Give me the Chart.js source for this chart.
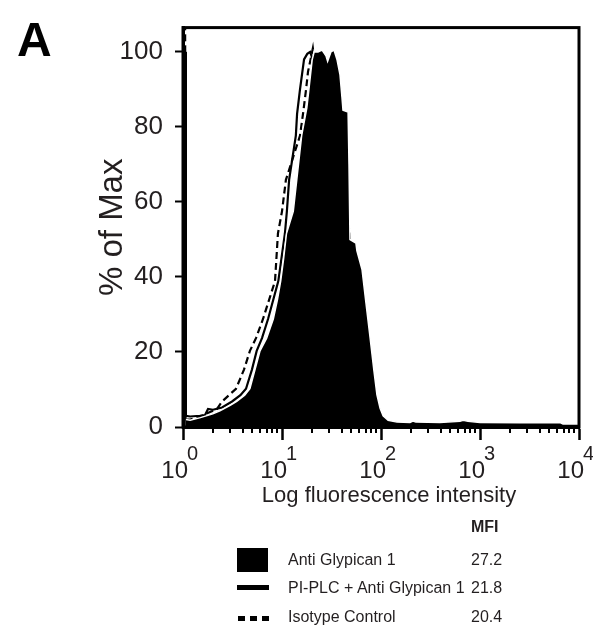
<!DOCTYPE html>
<html>
<head>
<meta charset="utf-8">
<script src="https://cdn.jsdelivr.net/npm/chart.js@4"></script>
<style>
  body { margin: 0; background: #fff; font-family: 'Liberation Sans', Arial, sans-serif; color: #231f20; }
  #wrap { position: relative; width: 593px; height: 632px; }
  #box { position: absolute; left: 0; top: 0; width: 593px; height: 632px; }
  .abs { position: absolute; white-space: nowrap; }
  .lbl { font-size: 16px; line-height: 20px; }
</style>
</head>
<body>
<div id="wrap">
  <div id="box"><canvas id="histChart"></canvas></div>
  <div class="abs" style="left:17px; top:12px; font-size:48px; font-weight:bold; color:#000;">A</div>

  <!-- legend -->
  <div class="abs lbl" style="left:471px; top:517px; font-weight:bold;">MFI</div>
  <div class="abs" style="left:237px; top:548px; width:31px; height:24px; background:#000;"></div>
  <div class="abs lbl" id="lg0" style="left:288px; top:550px;"></div>
  <div class="abs lbl" id="mfi0" style="left:471px; top:550px;"></div>
  <div class="abs" style="left:237px; top:585px; width:32px; height:5px; background:#000;"></div>
  <div class="abs lbl" id="lg1" style="left:288px; top:578px;"></div>
  <div class="abs lbl" id="mfi1" style="left:471px; top:578px;"></div>
  <div class="abs" style="left:238px; top:616px; width:31px; height:5px; background:repeating-linear-gradient(to right,#000 0 7px,transparent 7px 12px);"></div>
  <div class="abs lbl" id="lg2" style="left:288px; top:607px;"></div>
  <div class="abs lbl" id="mfi2" style="left:471px; top:607px;"></div>
</div>

<script>
// series names and MFI values
const seriesNames = ["Anti Glypican 1", "PI-PLC + Anti Glypican 1", "Isotype Control"];
const mfiValues = ["27.2", "21.8", "20.4"];

// Anti Glypican 1 (filled histogram)
const antiX = [1, 1.06, 1.07, 1.18, 1.5, 2.0, 2.36, 3.0, 3.49, 4.2, 4.74, 5.34, 6.0, 7.0, 8.17, 9.0, 9.7, 10.4, 11.1, 13.0, 14.1, 15.8, 17.8, 18.7, 20.2, 21.1, 23.1, 25.4, 27.8, 28.9, 31.2, 33.5, 35.9, 38.5, 40.3, 41.3, 46.5, 47.5, 48.6, 55.8, 57.1, 64.3, 70.5, 77.4, 84.8, 91, 97.9, 105, 118, 145, 196, 210, 225, 393, 628, 675, 756, 1000, 2540, 6440, 6900, 10000];
const antiY = [56, 56, 2, 1.8, 2.5, 3.5, 4.3, 5.8, 6.8, 8.5, 10.2, 15.3, 20.3, 23.7, 28.8, 34, 38.9, 45, 51.6, 57.5, 65.9, 77.7, 85, 90, 98, 100, 100, 100.5, 99, 97.5, 100, 100.5, 98, 94, 88, 84.5, 84, 70, 50, 49, 47, 42, 33, 24, 15, 8.6, 5, 3, 1.8, 1.3, 1.2, 1.6, 1.3, 1.2, 1.5, 1.8, 1.5, 1.2, 1.1, 1.2, 0.8, 0.8];

// PI-PLC + Anti Glypican 1 (solid line)
const plcX = [1, 1.05, 1.07, 1.18, 1.48, 1.67, 1.79, 2.01, 2.48, 3.13, 3.8, 4.33, 4.97, 5.55, 6.28, 7.23, 9.18, 10.7, 11.2, 11.8, 13.8, 14.2, 15.2, 16.7, 18.0, 19.2, 20.5, 24, 30, 38, 48, 61, 77, 98, 139, 10000];
const plcY = [100, 100, 3, 2.8, 3, 3.2, 4.8, 4.6, 5.2, 6.8, 8.5, 10.2, 15.3, 20.3, 23.7, 28.8, 38.9, 51.6, 57.5, 65.9, 77.7, 83.5, 90, 98, 99.5, 100, 98, 93, 85, 72, 45, 20, 6, 2, 0.6, 0.3];

// Isotype Control (dashed line)
const isoX = [1, 1.05, 1.07, 1.18, 1.5, 1.8, 2.2, 2.48, 3.43, 4.13, 4.74, 5.46, 6.43, 8.5, 9.1, 10.0, 10.95, 15.2, 16.3, 17.5, 18.3, 20.5, 21.6, 22.6, 27.2, 34.3, 43.3, 54.6, 68.8, 86.7, 109, 155, 10000];
const isoY = [110, 110, 2, 2, 2.8, 3.8, 4.8, 6.8, 10.2, 15.3, 20.3, 23.7, 28.8, 38.9, 51.6, 57.5, 65.9, 77.7, 83.5, 90, 94.7, 101, 96, 93, 92, 85, 65, 35, 12, 4, 1.5, 0.5, 0.3];

// axis ticks
const yTicks = [0, 20, 40, 60, 80, 100];
const xMajor = [1, 10, 100, 1000, 10000];
const xExp = ["0", "1", "2", "3", "4"];
const xMinor = [2, 3, 4, 5, 6, 7, 8, 9, 20, 30, 40, 50, 60, 70, 80, 90, 200, 300, 400, 500, 600, 700, 800, 900, 2000, 3000, 4000, 5000, 6000, 7000, 8000, 9000];
const xTitle = "Log fluorescence intensity";

for (let i = 0; i < 3; i++) {
  document.getElementById("lg" + i).innerText = seriesNames[i];
  document.getElementById("mfi" + i).innerText = mfiValues[i];
}

function pts(xs, ys) {
  return xs.map((x, i) => ({ x: x, y: ys[i] }));
}

const txt = "#231f20";
const fam = "'Liberation Sans', Arial, sans-serif";

// minor ticks, x labels with exponents, x title, box frame
const extras = {
  id: "extras",
  afterDatasetsDraw(chart) {
    const c = chart.ctx, a = chart.chartArea;
    c.save();
    c.strokeStyle = "#000";
    c.lineWidth = 3;
    c.strokeRect(a.left, a.top, a.right - a.left, a.bottom - a.top);
    c.restore();
  },
  afterDraw(chart) {
    const c = chart.ctx, a = chart.chartArea, xs = chart.scales.x;
    c.save();
    c.strokeStyle = "#000";
    c.lineWidth = 2;
    xMinor.forEach((v) => {
      const px = Math.round(xs.getPixelForValue(v));
      c.beginPath();
      c.moveTo(px, a.bottom);
      c.lineTo(px, a.bottom + 6);
      c.stroke();
    });
    c.fillStyle = txt;
    c.textBaseline = "alphabetic";
    xMajor.forEach((v, i) => {
      const px = xs.getPixelForValue(v);
      c.font = "24px " + fam;
      c.textAlign = "right";
      c.fillText("10", px + 5, a.bottom + 51);
      c.font = "20px " + fam;
      c.textAlign = "left";
      c.fillText(xExp[i], px + 4, a.bottom + 33);
    });
    c.font = "22px " + fam;
    c.textAlign = "center";
    c.fillText(xTitle, (xs.left + xs.right) / 2 + 8, a.bottom + 75);
    c.restore();
  },
};

new Chart(document.getElementById("histChart"), {
  type: "line",
  data: {
    datasets: [
      {
        label: seriesNames[0],
        data: pts(antiX, antiY),
        fill: "origin",
        backgroundColor: "#000",
        borderColor: "#fff",
        borderWidth: 1.5,
        segment: {
          // keep the first-channel spike solid black against the axis
          borderColor: (ctx) => (ctx.p0DataIndex < 2 ? "#000" : "#fff"),
        },
        pointRadius: 0,
        tension: 0,
        order: 0,
      },
      {
        label: seriesNames[1],
        data: pts(plcX, plcY),
        fill: false,
        borderColor: "#000",
        borderWidth: 2.2,
        pointRadius: 0,
        tension: 0,
        order: 1,
      },
      {
        label: seriesNames[2],
        data: pts(isoX, isoY),
        fill: false,
        borderColor: "#000",
        borderWidth: 2.2,
        borderDash: [7, 4],
        pointRadius: 0,
        tension: 0,
        order: 2,
      },
    ],
  },
  options: {
    responsive: true,
    maintainAspectRatio: false,
    animation: false,
    layout: { padding: { top: 6, right: 14, left: 0, bottom: 125 } },
    plugins: { legend: { display: false }, tooltip: { enabled: false } },
    scales: {
      x: {
        type: "logarithmic",
        min: 1,
        max: 10000,
        afterBuildTicks: (s) => {
          s.ticks = xMajor.map((v) => ({ value: v, major: true }));
        },
        afterFit: (s) => {
          s.height = 80;
        },
        ticks: { autoSkip: false, maxRotation: 0, callback: () => "" },
        grid: { drawOnChartArea: false, tickLength: 13, tickWidth: 2.5, tickColor: "#000" },
        border: { display: true, color: "#000", width: 3 },
      },
      y: {
        min: 0,
        max: 106.5,
        afterBuildTicks: (s) => {
          s.ticks = yTicks.map((v) => ({ value: v }));
        },
        afterFit: (s) => {
          s.width = 183;
        },
        ticks: { color: txt, font: { size: 26, family: fam }, padding: 12 },
        grid: { drawOnChartArea: false, tickLength: 8, tickWidth: 2, tickColor: "#000" },
        border: { display: true, color: "#000", width: 3 },
        title: {
          display: true,
          text: "% of Max",
          color: txt,
          font: { size: 33, family: fam },
          padding: { top: 93, bottom: 0 },
        },
      },
    },
  },
  plugins: [extras],
});
</script>
</body>
</html>
